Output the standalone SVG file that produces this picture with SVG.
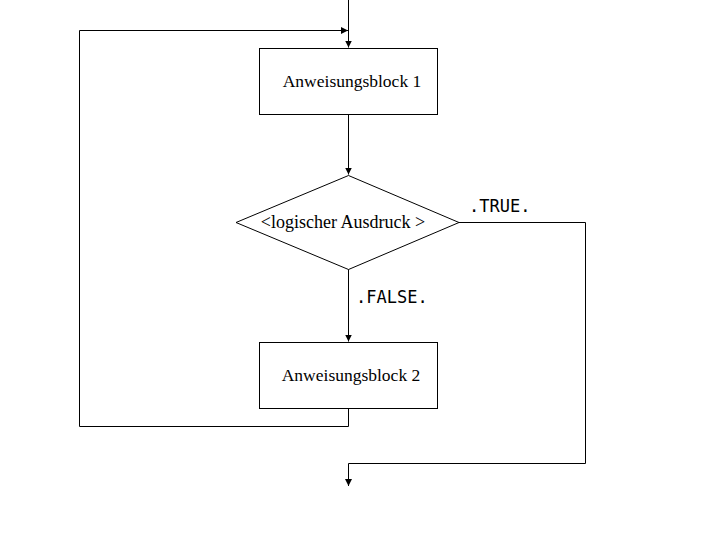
<svg xmlns="http://www.w3.org/2000/svg" width="720" height="540" viewBox="0 0 720 540">
<style>
.box{fill:#fff;stroke:#000;stroke-width:1}
.lbl{font-family:"Liberation Serif","Times New Roman",serif;font-size:17.5px;fill:#000}
.mono{font-family:"DejaVu Sans Mono","Liberation Mono",monospace;font-size:17px;fill:#000}
.con{fill:none;stroke:#000;stroke-width:1}
</style>
<defs>
<marker id="ah" markerWidth="7" markerHeight="7" refX="7" refY="3.5" orient="auto" markerUnits="userSpaceOnUse">
<path d="M0,0 L7,3.5 L0,7 Z" fill="#000"/>
</marker>
</defs>
<rect width="720" height="540" fill="#fff"/>
<g id="connectors">
<path class="con" d="M348.5,0 V47.5" marker-end="url(#ah)"/>
<path class="con" d="M348.5,114 V174.5" marker-end="url(#ah)"/>
<path class="con" d="M348.5,269 V341.5" marker-end="url(#ah)"/>
<path class="con" d="M348.5,408 V426.5 H79.5 V30.5 H348" marker-end="url(#ah)"/>
<path class="con" d="M459,222.5 H585.5 V463.5 H348.5 V486" marker-end="url(#ah)"/>
<text class="mono" x="469" y="212">.TRUE.</text>
<text class="mono" x="356" y="303">.FALSE.</text>
</g>
<g id="block1">
<rect class="box" x="259.5" y="48.5" width="178" height="66"/>
<text class="lbl" x="352" y="87" text-anchor="middle">Anweisungsblock 1</text>
</g>
<g id="condition">
<polygon class="box" points="348.5,175.5 459,222.5 348.5,269.5 236,222.5"/>
<text class="lbl" x="343" y="228" text-anchor="middle" style="font-size:18px">&lt;logischer Ausdruck &gt;</text>
</g>
<g id="block2">
<rect class="box" x="259.5" y="342.5" width="178" height="66"/>
<text class="lbl" x="351" y="381" text-anchor="middle">Anweisungsblock 2</text>
</g>
</svg>
